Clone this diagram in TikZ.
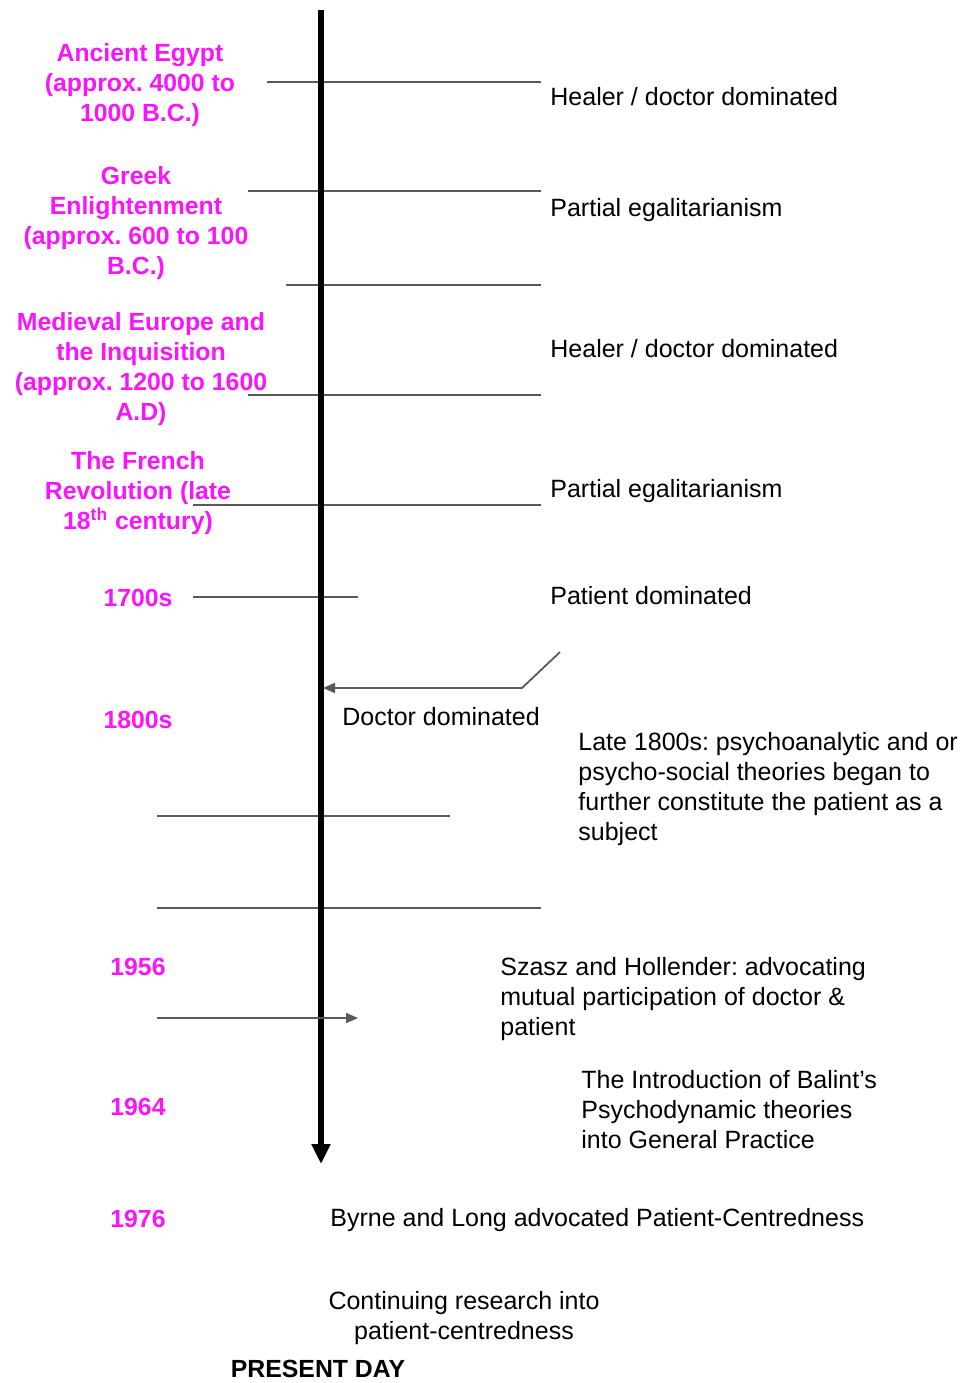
\documentclass[tikz,border=0pt]{standalone}
\usepackage{fontspec}
\setmainfont{Liberation Sans}
\usetikzlibrary{positioning,arrows.meta}
\definecolor{eramag}{RGB}{250,20,250}
\frenchspacing

\begin{document}
\begin{tikzpicture}[x=0.5pt,y=-0.5pt,
  era/.style={text=eramag,font=\bfseries\fontsize{12.4}{15}\selectfont,align=center,inner sep=0pt},
  note/.style={font=\fontsize{12.5}{15}\selectfont,align=left,anchor=west,inner sep=0pt},
  tick/.style={draw=black!65,line width=0.9pt}]
  \useasboundingbox (0,0) rectangle (965,1383);

  % period ticks across the time line
  \foreach \y/\xl/\xr [count=\i] in {82/267/541, 191/248/541, 285/286/541,
      395/248/541, 505/193/541, 597/193/358, 816/157/450, 908/157/541}{
    \coordinate (l\i) at (\xl,\y);
    \coordinate (r\i) at (\xr,\y);
    \draw[tick] (l\i) -- (r\i);
  }

  % the time line
  \coordinate (top) at (321,10);
  \coordinate (bot) at (321,1164);
  \draw[line width=2.6pt,-{Triangle[width=9pt,length=10pt]}] (top) -- (bot);

  % eras
  \node[era] (egypt)    at (140,85)  {Ancient Egypt\\(approx. 4000 to\\1000 B.C.)};
  \node[era] (greek)    at (136,223) {Greek\\Enlightenment\\(approx. 600 to 100\\B.C.)};
  \node[era] (medieval) at (141,369) {Medieval Europe and\\the Inquisition\\(approx. 1200 to 1600\\A.D)};
  \node[era] (french)   at (138,493) {The French\\Revolution (late\\18\textsuperscript{th} century)};
  \node[era] (y1700)    at (138,598) {1700s};
  \node[era] (y1800)    at (138,720) {1800s};
  \node[era] (y1956)    at (138,967) {1956};
  \node[era] (y1964)    at (138,1107) {1964};
  \node[era] (y1976)    at (138,1219) {1976};

  % relations
  \node[note] (healer1)  at (550,97)  {Healer / doctor dominated};
  \node[note] (partial1) at (550,210) {Partial egalitarianism};
  \node[note] (healer2)  at (550,349) {Healer / doctor dominated};
  \node[note] (partial2) at (550,491) {Partial egalitarianism};
  \node[note] (patient)  at (550,596) {Patient dominated};
  \node[note] (doctor)   at (342,717) {Doctor dominated};
  \node[note] (late)     at (578,789) {Late 1800s: psychoanalytic and or\\psycho-social theories began to\\further constitute the patient as a\\subject};
  \node[note] (szasz)    at (500,999) {Szasz and Hollender: advocating\\mutual participation of doctor \&\\patient};
  \node[note] (balint)   at (581,1110) {The Introduction of Balint's\\Psychodynamic theories\\into General Practice};
  \node[note] (byrne)    at (330,1220) {Byrne and Long advocated Patient-Centredness};
  \node[note,align=center,anchor=center] (research) at (464,1318) {Continuing research into\\patient-centredness};
  \node[note,font=\bfseries\fontsize{12.4}{15}\selectfont,anchor=center] (present) at (318,1369) {PRESENT DAY};

  % pointers
  \coordinate (dk) at (560,652);
  \coordinate (dj) at (522,688);
  \coordinate (dt) at (323,688);
  \draw[tick,-{Triangle[width=5pt,length=6pt]}] (dk) -- (dj) -- (dt);
  \coordinate (ms) at (157,1018);
  \coordinate (me) at (358,1018);
  \draw[tick,-{Triangle[width=5pt,length=6pt]}] (ms) -- (me);
\end{tikzpicture}
\end{document}
